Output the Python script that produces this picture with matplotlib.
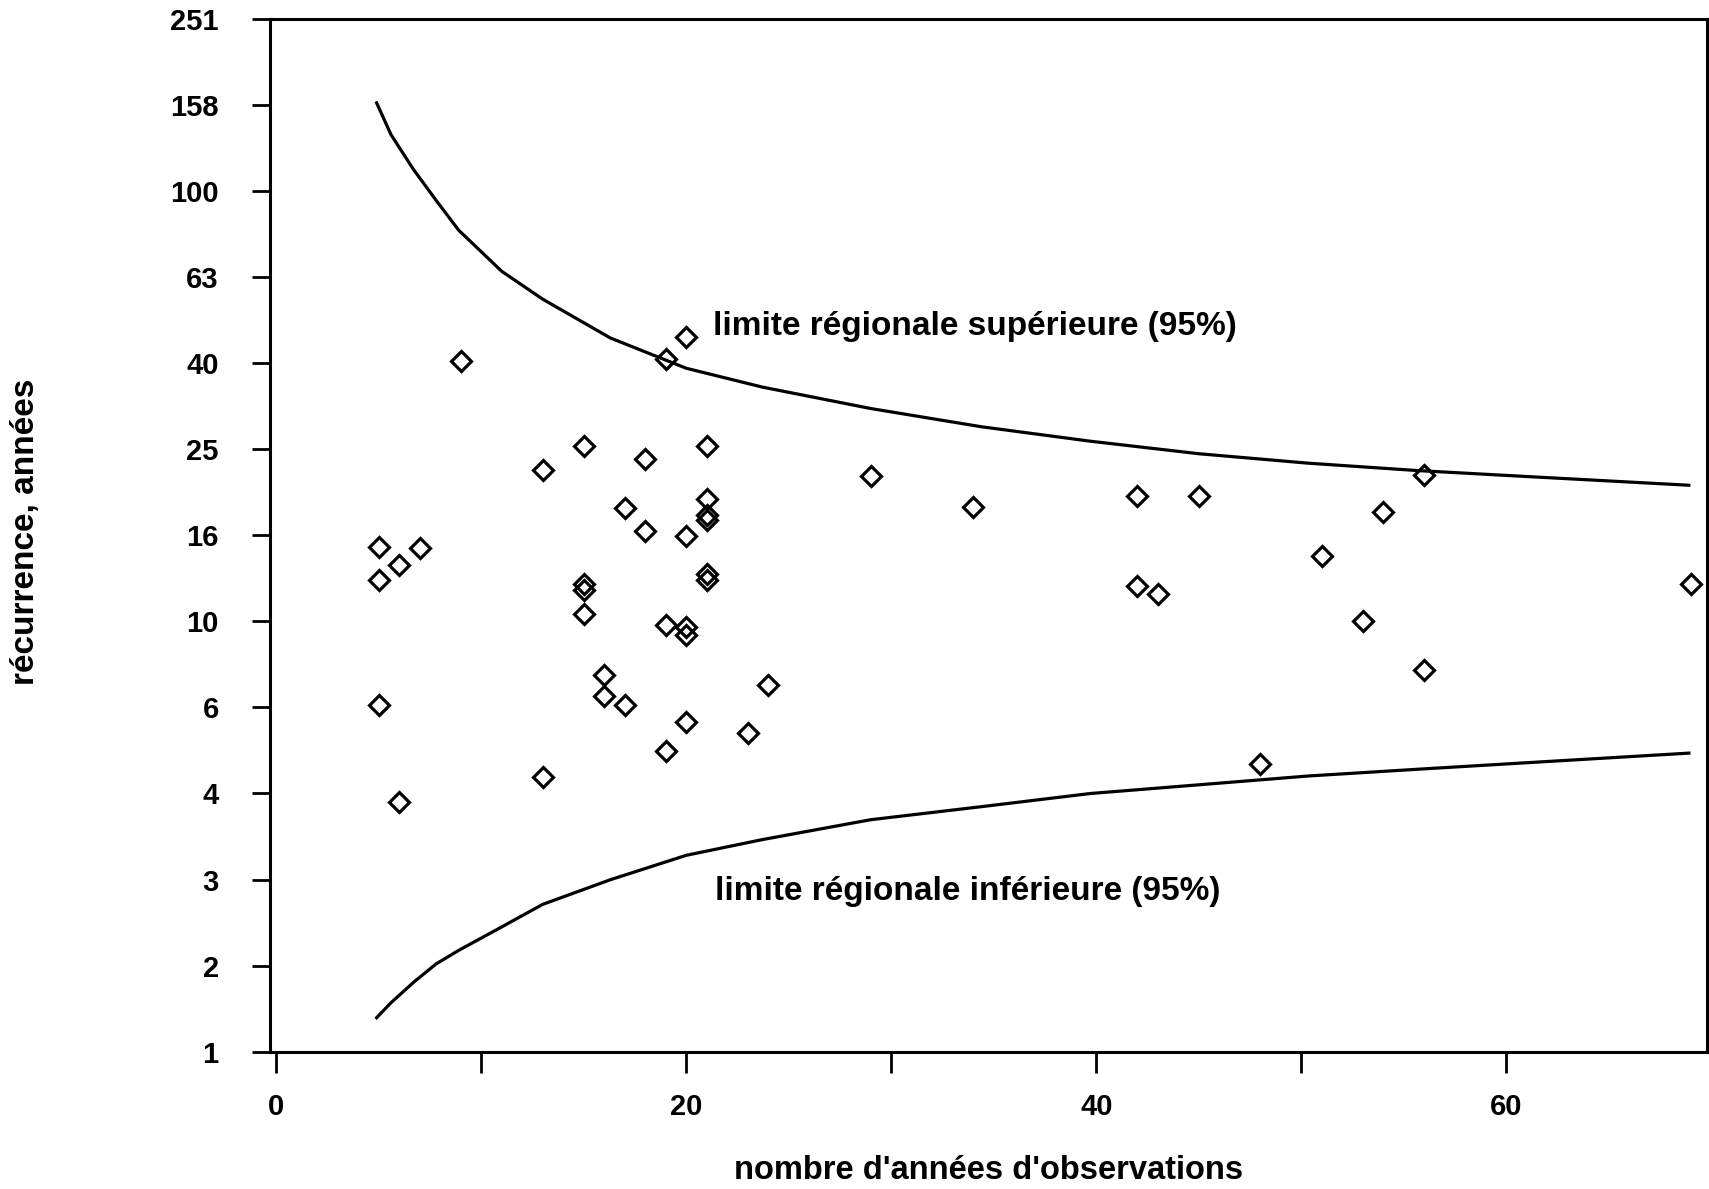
import numpy as np
import matplotlib
matplotlib.use("Agg")
import matplotlib.pyplot as plt

# observations : nombre d'annees (x) et recurrence en annees (y)
obs_n = [5, 5, 6, 7, 5, 6, 9, 13, 13, 15, 15, 15, 15, 16, 16, 17, 17, 18, 18,
         19, 19, 19, 20, 20, 20, 20, 20, 21, 21, 21, 21, 21, 21, 23, 24, 29,
         34, 42, 42, 43, 45, 48, 51, 53, 54, 56, 56, 69]
obs_t = [14.9, 12.5, 13.5, 14.8, 6.4, 3.8, 40.3, 22.4, 4.35, 25.6, 12.2, 11.8,
         10.4, 7.5, 6.7, 6.4, 18.3, 23.8, 16.2, 40.7, 9.8, 5.0, 45.7, 15.8,
         9.7, 9.3, 5.85, 25.6, 19.2, 17.7, 17.2, 12.9, 12.5, 5.5, 7.1, 21.7,
         18.4, 19.5, 12.1, 11.6, 19.5, 4.66, 14.2, 10.0, 17.9, 21.9, 7.7, 12.2]

# limites regionales (95%)
lim_n = [4.9, 5.6, 6.7, 7.8, 8.9, 11.0, 13.0, 16.3, 20.0, 23.7, 29.0, 34.4,
         39.7, 45.0, 50.3, 55.6, 60.9, 68.9]
lim_sup = [160, 135, 112, 95, 81, 65, 56, 45.5, 38.7, 35, 31.2, 28.3, 26.2,
           24.5, 23.3, 22.4, 21.7, 20.7]
lim_inf = [1.2, 1.3, 1.45, 1.6, 1.72, 1.95, 2.2, 2.51, 2.86, 3.11, 3.46, 3.71,
           3.98, 4.17, 4.37, 4.53, 4.69, 4.94]

ytick_labels = ['1', '2', '3', '4', '6', '10', '16', '25', '40', '63', '100',
                '158', '251']
xtick_vals = [0, 10, 20, 30, 40, 50, 60]
xtick_labels = ['0', '', '20', '', '40', '', '60']

plt.rcParams['font.family'] = ['Liberation Sans', 'DejaVu Sans']
plt.rcParams['font.size'] = 21
plt.rcParams['font.weight'] = 'bold'

fig = plt.figure(figsize=(17.09, 11.89), dpi=100)
ax = fig.add_axes([0.158, 0.1154, 0.841, 0.869])

ax.plot(lim_n, lim_sup, color='black', lw=2.3)
ax.plot(lim_n, lim_inf, color='black', lw=2.3)
ax.plot(obs_n, obs_t, linestyle='none', marker='D', ms=10, mfc='none',
        mec='black', mew=2.3)

ax.set_yscale('log')
ax.set_ylim(1, 10 ** 2.4)
ax.set_xlim(-0.3, 69.8)

ax.set_yticks([10 ** (0.2 * i) for i in range(len(ytick_labels))])
ax.set_yticklabels(ytick_labels)
ax.yaxis.set_minor_locator(matplotlib.ticker.NullLocator())
ax.set_xticks(xtick_vals)
ax.set_xticklabels(xtick_labels)

ax.tick_params(axis='y', direction='out', length=13, width=2, pad=24)
ax.tick_params(axis='x', direction='out', length=15, width=2, pad=15)
for s in ax.spines.values():
    s.set_linewidth(2.2)

ax.text(21.3, 48.3, "limite régionale supérieure (95%)", va='center',
        ha='left', fontsize=24, fontweight='bold')
ax.text(21.4, 2.36, "limite régionale inférieure (95%)", va='center',
        ha='left', fontsize=24, fontweight='bold')

ax.set_xlabel("nombre d'années d'observations", fontsize=23.5,
              fontweight='bold')
ax.set_ylabel("récurrence, années", fontsize=24, fontweight='bold')
ax.xaxis.set_label_coords(0.5, -0.100)
ax.yaxis.set_label_coords(-0.159, 0.503)

fig.savefig("out.png", dpi=100)
